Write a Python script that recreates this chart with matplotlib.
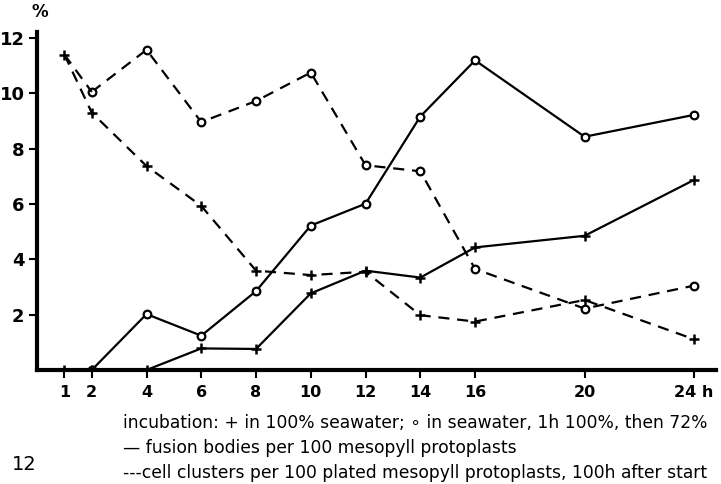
import matplotlib
matplotlib.use("Agg")
import matplotlib.pyplot as plt

# hours of incubation
hours_plus = [1, 2, 4, 6, 8, 10, 12, 14, 16, 20, 24]
hours_circle = [2, 4, 6, 8, 10, 12, 14, 16, 20, 24]
hours_clusters = [1, 2, 4, 6, 8, 10, 12, 14, 16, 20, 24]

# fusion bodies per 100 mesophyll protoplasts (solid)
fusion_100 = [0, 0, 0, 0.78, 0.76, 2.77, 3.59, 3.34, 4.43, 4.85, 6.87]
fusion_72 = [0, 2.02, 1.24, 2.85, 5.22, 6.01, 9.16, 11.19, 8.43, 9.22]

# cell clusters per 100 plated protoplasts (dashed)
clusters_100 = [11.4, 9.3, 7.37, 5.93, 3.59, 3.43, 3.55, 1.98, 1.75, 2.53, 1.11]
clusters_72 = [11.4, 10.05, 11.57, 8.96, 9.72, 10.75, 7.40, 7.18, 3.65, 2.22, 3.05]

xticks = [1, 2, 4, 6, 8, 10, 12, 14, 16, 20, 24]
xticklabels = ["1", "2", "4", "6", "8", "10", "12", "14", "16", "20", "24 h"]
yticks = [2, 4, 6, 8, 10, 12]
yticklabels = ["2", "4", "6", "8", "10", "12"]

plt.rcParams['font.family'] = ['DejaVu Sans']

fig = plt.figure(figsize=(7.21, 4.84), dpi=100)
ax = fig.add_axes([37/721, 114/484, 679/721, 337.6/484])

lw = 1.6
dash = (0, (5, 3.5))
plus_kw = dict(marker='+', markersize=6.5, markeredgewidth=1.8, color='black')
circ_kw = dict(marker='o', markersize=5.5, markeredgewidth=1.6, markerfacecolor='white',
               color='black')

ax.plot(hours_plus, fusion_100, linestyle='-', linewidth=lw, **plus_kw)
ax.plot(hours_circle, fusion_72, linestyle='-', linewidth=lw, **circ_kw)
ax.plot(hours_clusters, clusters_100, linestyle=dash, linewidth=lw, **plus_kw)
ax.plot(hours_clusters[1:], clusters_72[1:], linestyle=dash, linewidth=lw, **circ_kw)
ax.plot(hours_clusters[:2], clusters_72[:2], linestyle=dash, linewidth=lw, color='black')

ax.set_xlim(0.0, 24.8)
ax.set_ylim(0, 12.2)
for s in ['top', 'right']:
    ax.spines[s].set_visible(False)
for s in ['left', 'bottom']:
    ax.spines[s].set_linewidth(3)
ax.set_xticks(xticks)
ax.set_xticklabels(xticklabels, fontsize=11.5, fontweight='bold')
ax.set_yticks(yticks)
ax.set_yticklabels(yticklabels, fontsize=13, fontweight='bold')
ax.tick_params(axis='both', direction='out', length=6, width=1.5, pad=3)
ax.tick_params(axis='x', pad=5)

fig.text(40/721, 1 - 12/484, "%", fontsize=12, fontweight='bold', ha='center', va='center')

fs = 12.3
fig.text(123/721, 1 - 423/484,
         "incubation: + in 100% seawater; \u2218 in seawater, 1h 100%, then 72%",
         fontsize=fs, ha='left', va='center')
fig.text(123/721, 1 - 448/484,
         "\u2014 fusion bodies per 100 mesopyll protoplasts",
         fontsize=fs, ha='left', va='center')
fig.text(123/721, 1 - 473/484,
         "---cell clusters per 100 plated mesopyll protoplasts, 100h after start",
         fontsize=fs, ha='left', va='center')
fig.text(12/721, 1 - 465/484, "12", fontsize=14, ha='left', va='center')

fig.savefig("out.png", dpi=100)
